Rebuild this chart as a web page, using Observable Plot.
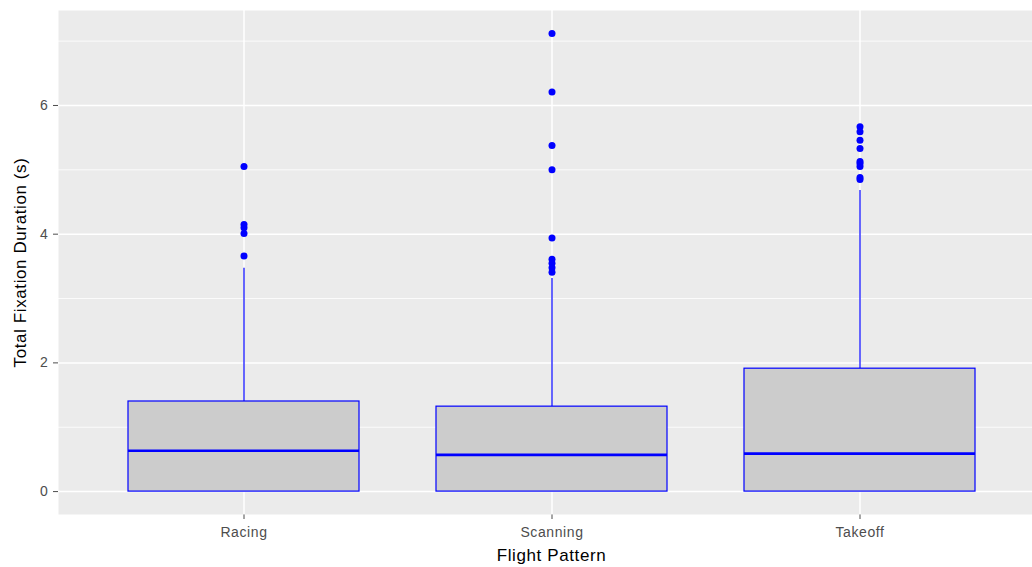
<!DOCTYPE html>
<html>
<head>
<meta charset="utf-8">
<script src="https://cdn.jsdelivr.net/npm/d3@7"></script>
<script src="https://cdn.jsdelivr.net/npm/@observablehq/plot@0.6"></script>
<style>
  html, body { margin: 0; padding: 0; background: #fff; overflow: hidden; }
  #chart svg { display: block; }
</style>
</head>
<body>
<div id="chart"></div>
<script>
// ---- data ----
const categories = ["Racing", "Scanning", "Takeoff"];
const q1 = [0, 0, 0];
const median = [0.635, 0.57, 0.59];
const q3 = [1.40, 1.32, 1.91];
const whiskerLow = [0, 0, 0];
const whiskerHigh = [3.47, 3.31, 4.68];
const outliersRacing = [3.66, 4.01, 4.10, 4.15, 5.05];
const outliersScanning = [3.41, 3.48, 3.55, 3.61, 3.94, 5.00, 5.38, 6.21, 7.12];
const outliersTakeoff = [4.85, 4.88, 5.05, 5.10, 5.13, 5.33, 5.46, 5.59, 5.67];
const yMajorTicks = [0, 2, 4, 6];
const yMinorTicks = [1, 3, 5, 7];
const xTitle = "Flight Pattern";
const yTitle = "Total Fixation Duration (s)";

// ---- tables built from the arrays ----
const boxes = categories.map((c, i) => ({
  cat: c, q1: q1[i], median: median[i], q3: q3[i], lo: whiskerLow[i], hi: whiskerHigh[i]
}));
const outlierLists = [outliersRacing, outliersScanning, outliersTakeoff];
const outliers = categories.flatMap((c, i) => outlierLists[i].map(v => ({cat: c, value: v})));

const allVals = [...whiskerLow, ...whiskerHigh, ...outlierLists.flat()];
const yMin = d3.min(allVals), yMax = d3.max(allVals);
const pad = (yMax - yMin) * 0.05;

const chart = Plot.plot({
  width: 1032,
  height: 567,
  marginLeft: 58,
  marginRight: 0,
  marginTop: 10,
  marginBottom: 53,
  style: {
    fontFamily: "'Liberation Sans', Arial, sans-serif",
    fontSize: "14px",
    letterSpacing: "0.6px",
    color: "#4d4d4d",
    background: "#ffffff",
    overflow: "hidden"
  },
  x: {
    type: "band",
    domain: categories,
    range: [58, 1045],
    paddingInner: 0.25,
    paddingOuter: 0.225,
    label: null,
    tickSize: 5,
    tickPadding: 8
  },
  y: {
    domain: [yMin - pad, yMax + pad],
    ticks: yMajorTicks,
    tickFormat: d => String(d),
    tickSize: 5,
    tickPadding: 5,
    label: null
  },
  marks: [
    Plot.frame({fill: "#ebebeb", stroke: null}),
    Plot.ruleY(yMinorTicks, {stroke: "#ffffff", strokeWidth: 0.8}),
    Plot.ruleY(yMajorTicks, {stroke: "#ffffff", strokeWidth: 1.5}),
    Plot.ruleX(categories, {x: d => d, stroke: "#ffffff", strokeWidth: 1.5}),
    Plot.ruleX(boxes, {x: "cat", y1: "q3", y2: "hi", stroke: "#0000ff", strokeWidth: 1.2}),
    Plot.ruleX(boxes, {x: "cat", y1: "lo", y2: "q1", stroke: "#0000ff", strokeWidth: 1.2}),
    Plot.barY(boxes, {x: "cat", y1: "q1", y2: "q3", fill: "#cccccc", stroke: "#0000ff", strokeWidth: 1.2}),
    Plot.tickY(boxes, {x: "cat", y: "median", stroke: "#0000ff", strokeWidth: 2.6}),
    Plot.dot(outliers, {x: "cat", y: "value", r: 3.5, fill: "#0000ff", stroke: null}),
    Plot.text([yTitle], {frameAnchor: "left", textAnchor: "middle", dx: -38, rotate: -90, fill: "#000000",
      fontSize: 17, text: d => d, style: "letter-spacing:0.8px"}),
    Plot.text([xTitle], {frameAnchor: "bottom", textAnchor: "middle", dx: 6, dy: 46, fill: "#000000",
      fontSize: 17, text: d => d})
  ]
});
document.getElementById("chart").appendChild(chart);
</script>
</body>
</html>
